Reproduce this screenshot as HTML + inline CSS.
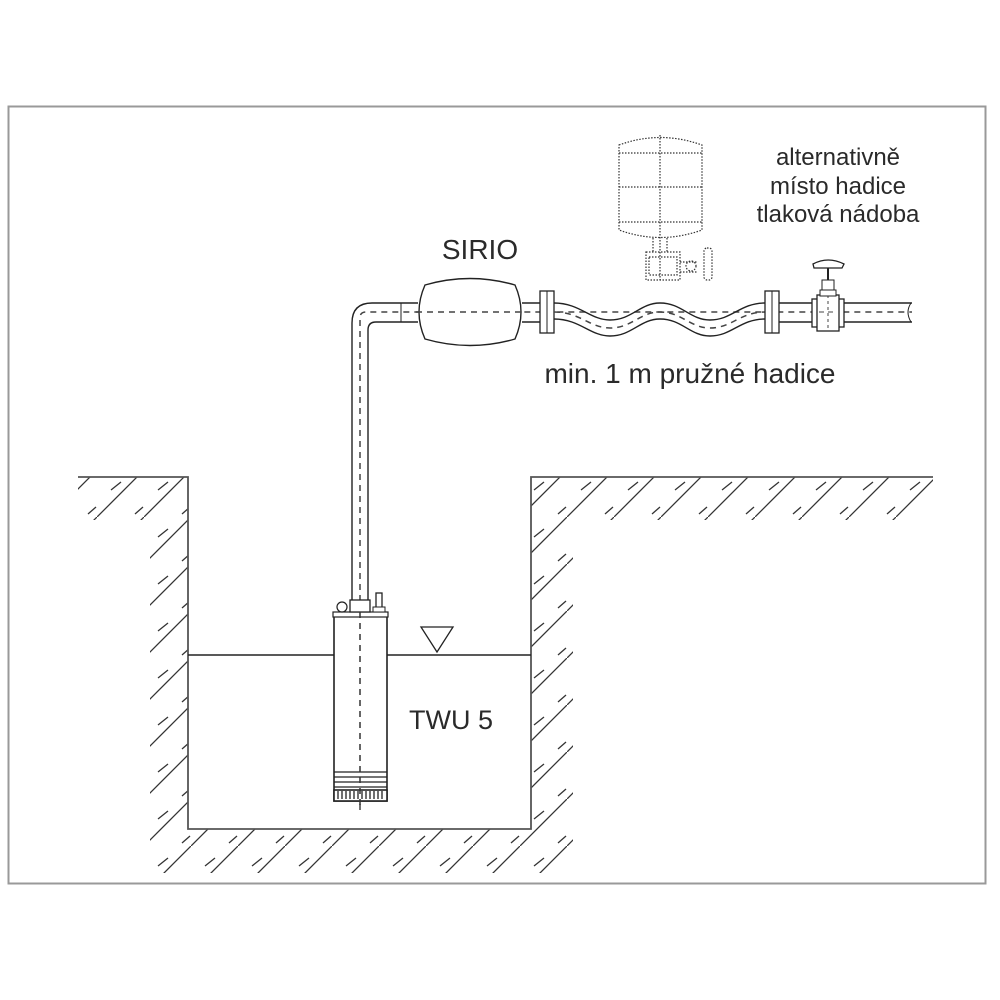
<!DOCTYPE html>
<html><head><meta charset="utf-8"><style>
html,body{margin:0;padding:0;background:#fff;}
svg{display:block;}
text{font-family:"Liberation Sans",Arial,sans-serif;fill:#2a2a2a;}
</style></head><body>
<svg width="1000" height="1000" viewBox="0 0 1000 1000" xmlns="http://www.w3.org/2000/svg">
<defs>
<pattern id="h" width="47" height="47" patternUnits="userSpaceOnUse" patternTransform="translate(3,0)">
<line x1="-5" y1="52" x2="52" y2="-5" stroke="#333" stroke-width="1.3"/>
<line x1="14" y1="20" x2="24" y2="12" stroke="#333" stroke-width="1.3"/>
<line x1="38" y1="44" x2="46" y2="37" stroke="#333" stroke-width="1.3"/>
</pattern>
</defs>
<rect x="8.5" y="106.5" width="977" height="777" fill="none" stroke="#999" stroke-width="2"/>
<path d="M78 477 H188 V829 H531 V477 H933 V520 H573 V873 H150 V520 H78 Z" fill="url(#h)"/>
<path d="M78 477 H188 V829 H531 V477 H933" fill="none" stroke="#555" stroke-width="1.8"/>
<line x1="188" y1="655" x2="334" y2="655" stroke="#222" stroke-width="1.5"/>
<line x1="387" y1="655" x2="531" y2="655" stroke="#222" stroke-width="1.5"/>
<path d="M421 627 H453 L437 652 Z" fill="none" stroke="#222" stroke-width="1.3"/>
<path d="M352 600 V323 Q352 303 372 303 H418" fill="none" stroke="#222" stroke-width="1.4"/>
<path d="M368 600 V330 Q368 322 376 322 H418" fill="none" stroke="#222" stroke-width="1.4"/>
<path d="M360 810 V318 Q360 312 366 312 H912" fill="none" stroke="#444" stroke-width="1.5" stroke-dasharray="6 5"/>
<line x1="401" y1="303" x2="401" y2="322" stroke="#222" stroke-width="1"/>
<path d="M425 285 Q470 272 515 285 Q527 312 515 339 Q470 352 425 339 Q413 312 425 285 Z" fill="#fff" stroke="#222" stroke-width="1.4"/>
<line x1="416" y1="312" x2="524" y2="312" stroke="#444" stroke-width="1.5" stroke-dasharray="6 5"/>
<line x1="522" y1="303" x2="540" y2="303" stroke="#222" stroke-width="1.4"/>
<line x1="522" y1="322" x2="540" y2="322" stroke="#222" stroke-width="1.4"/>
<rect x="540" y="291" width="14" height="42" fill="#fff" stroke="#222" stroke-width="1.3"/>
<line x1="547" y1="291" x2="547" y2="333" stroke="#222"/>
<path d="M554 303 C580 303 590 320 610 320 C632 320 640 303 660 303 C682 303 690 320 710 320 C732 320 740 303 765 303" fill="none" stroke="#222" stroke-width="1.4"/>
<path d="M554 319 C580 319 590 336 610 336 C632 336 640 319 660 319 C682 319 690 336 710 336 C732 336 740 319 765 319" fill="none" stroke="#222" stroke-width="1.4"/>
<path d="M554 312 C580 312 590 328 610 328 C632 328 640 312 660 312 C682 312 690 328 710 328 C732 328 740 312 765 312" fill="none" stroke="#444" stroke-width="1.5" stroke-dasharray="6 5"/>
<rect x="765" y="291" width="14" height="42" fill="#fff" stroke="#222" stroke-width="1.3"/>
<line x1="772" y1="291" x2="772" y2="333" stroke="#222"/>
<line x1="779" y1="303" x2="912" y2="303" stroke="#222" stroke-width="1.4"/>
<line x1="779" y1="322" x2="912" y2="322" stroke="#222" stroke-width="1.4"/>
<path d="M911 303 Q905 312 911 322" fill="none" stroke="#222"/>
<rect x="812" y="299" width="32" height="28" fill="#fff" stroke="#222" stroke-width="1.3"/>
<rect x="817" y="295" width="22" height="36" fill="#fff" stroke="#222" stroke-width="1.3"/>
<line x1="828" y1="295" x2="828" y2="331" stroke="#444" stroke-dasharray="3 3"/>
<rect x="820" y="290" width="16" height="6" fill="#fff" stroke="#222"/>
<rect x="822" y="280" width="12" height="10" fill="#fff" stroke="#222"/>
<line x1="828" y1="268" x2="828" y2="280" stroke="#222" stroke-width="2"/>
<path d="M813 264 Q828 256 844 264 L842 268 H814 Z" fill="#fff" stroke="#222" stroke-width="1.3"/>
<line x1="819" y1="312" x2="837" y2="312" stroke="#444" stroke-dasharray="5 4"/>
<g fill="none" stroke="#333" stroke-width="1.2" stroke-dasharray="1.5 1.5">
<path d="M619 145 Q660 130 702 145 V230 Q660 245 619 230 Z"/>
<line x1="619" y1="153" x2="702" y2="153"/>
<line x1="619" y1="187" x2="702" y2="187"/>
<line x1="619" y1="222" x2="702" y2="222"/>
<line x1="660" y1="135" x2="660" y2="280"/>
<path d="M653 238 V252 M667 238 V252"/>
<rect x="646" y="252" width="34" height="28"/>
<rect x="649" y="257" width="28" height="18"/>
<path d="M680 262 H697 M680 272 H697"/>
<circle cx="691" cy="266" r="5"/>
<rect x="704" y="248" width="8" height="32" rx="3"/>
</g>
<rect x="334" y="616" width="53" height="185" fill="#fff" stroke="#222" stroke-width="1.6"/>
<rect x="333" y="612" width="55" height="5" fill="#fff" stroke="#222" stroke-width="1.2"/>
<rect x="350" y="600" width="20" height="12" fill="#fff" stroke="#222" stroke-width="1.3"/>
<circle cx="342" cy="607" r="5" fill="#fff" stroke="#222" stroke-width="1.2"/>
<rect x="376" y="593" width="6" height="17" fill="#fff" stroke="#222" stroke-width="1.3"/>
<rect x="373" y="607" width="12" height="5" fill="#fff" stroke="#222" stroke-width="1"/>
<line x1="334" y1="772" x2="387" y2="772" stroke="#222" stroke-width="1.3"/>
<line x1="334" y1="777" x2="387" y2="777" stroke="#222" stroke-width="1.3"/>
<line x1="334" y1="782" x2="387" y2="782" stroke="#222" stroke-width="1.3"/>
<line x1="334" y1="787" x2="387" y2="787" stroke="#222" stroke-width="1.3"/>
<rect x="334" y="790" width="53" height="11" fill="#fff" stroke="#222" stroke-width="1.6"/>
<path d="M338 791 V799 M342 791 V799 M346 791 V799 M350 791 V799 M354 791 V799 M358 791 V799 M362 791 V799 M366 791 V799 M370 791 V799 M374 791 V799 M378 791 V799 M382 791 V799" stroke="#222" stroke-width="1.3"/>
<line x1="360" y1="612" x2="360" y2="808" stroke="#333" stroke-width="1.5" stroke-dasharray="6 5"/>
<text x="480" y="259" font-size="28" text-anchor="middle">SIRIO</text>
<text x="838" y="165" font-size="24" text-anchor="middle">alternativně</text>
<text x="838" y="194" font-size="24" text-anchor="middle">místo hadice</text>
<text x="838" y="222" font-size="24" text-anchor="middle">tlaková nádoba</text>
<text x="690" y="383" font-size="28" text-anchor="middle">min. 1 m pružné hadice</text>
<text x="451" y="729" font-size="27" text-anchor="middle">TWU 5</text>
</svg>
</body></html>
